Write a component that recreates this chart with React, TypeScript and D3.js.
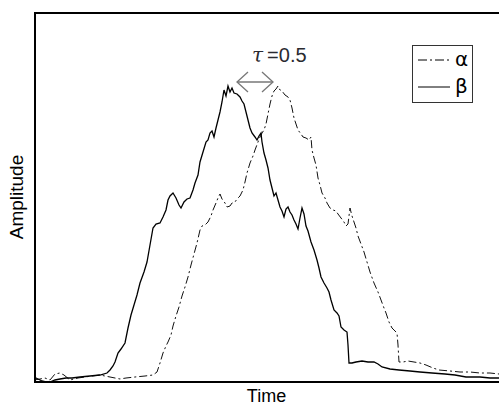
import React, { useEffect, useRef } from "react";
import * as d3 from "d3";

// time (arbitrary units) vs amplitude (arbitrary units)
const alphaSeries: [number, number][] = [
  [0, 4], [12, 6], [22, 8], [32, 4], [42, 16], [52, 18], [60, 14], [72, 4], [88, 8], [102, 10],
  [116, 12], [132, 14], [152, 10], [172, 6], [184, 8], [202, 10], [222, 12], [238, 14], [246, 20],
  [252, 38], [258, 58], [264, 72], [268, 80], [274, 94], [278, 112], [284, 132], [290, 150],
  [296, 172], [302, 190], [308, 210], [314, 234], [320, 256], [326, 278], [332, 304], [336, 312],
  [342, 314], [348, 320], [354, 332], [358, 344], [364, 358], [368, 368], [372, 376], [376, 366],
  [382, 358], [386, 350], [392, 352], [396, 358], [402, 360], [406, 366], [412, 372], [418, 384],
  [422, 400], [426, 418], [432, 438], [438, 452], [442, 464], [448, 480], [452, 490], [456, 498],
  [460, 504], [464, 516], [468, 536], [472, 556], [476, 572], [480, 582], [484, 586], [488, 592],
  [492, 584], [496, 582], [502, 574], [508, 570], [512, 564], [516, 548], [520, 528], [524, 516],
  [528, 504], [534, 496], [538, 490], [544, 488], [550, 484], [554, 490], [556, 464], [560, 448],
  [564, 434], [568, 408], [572, 394], [576, 378], [582, 368], [586, 358], [592, 348], [598, 344],
  [604, 342], [608, 336], [614, 328], [620, 320], [624, 312], [628, 316], [632, 348], [636, 332],
  [640, 320], [644, 308], [648, 292], [654, 276], [660, 260], [666, 240], [672, 220], [680, 198],
  [688, 180], [694, 164], [700, 148], [704, 138], [710, 120], [716, 108], [722, 102], [726, 98],
  [728, 74], [730, 40], [738, 40], [748, 42], [760, 40], [772, 38], [784, 34], [798, 28], [810, 24],
  [832, 22], [852, 20], [872, 20], [892, 18], [912, 18], [930, 16],
];

const betaSeries: [number, number][] = [
  [0, 10], [8, 6], [16, 2], [24, 0], [32, 0], [42, 4], [52, 6], [64, 8], [76, 8], [92, 10],
  [112, 12], [132, 14], [146, 18], [152, 24], [158, 32], [162, 40], [168, 58], [174, 66], [182, 78],
  [188, 108], [194, 134], [200, 154], [206, 174], [212, 198], [220, 220], [226, 240], [232, 274],
  [238, 308], [244, 316], [252, 318], [258, 330], [264, 344], [268, 364], [272, 372], [278, 378],
  [284, 368], [290, 354], [294, 348], [300, 360], [306, 366], [312, 368], [318, 384], [322, 398],
  [328, 414], [332, 440], [338, 460], [344, 480], [348, 484], [352, 498], [356, 502], [360, 490],
  [364, 508], [368, 524], [372, 540], [376, 560], [380, 584], [384, 572], [388, 592], [392, 580],
  [396, 588], [400, 578], [406, 576], [412, 570], [416, 562], [420, 556], [424, 540], [428, 524],
  [432, 508], [436, 498], [442, 490], [446, 484], [450, 492], [454, 498], [456, 480], [460, 458],
  [464, 444], [468, 428], [472, 404], [476, 388], [480, 372], [484, 378], [488, 364], [492, 350],
  [496, 342], [500, 330], [504, 346], [508, 350], [512, 340], [516, 334], [520, 324], [524, 316],
  [528, 306], [532, 328], [536, 348], [540, 336], [544, 312], [548, 302], [554, 280], [560, 264],
  [566, 244], [570, 228], [574, 210], [580, 198], [586, 188], [590, 180], [594, 164], [600, 144],
  [606, 138], [610, 132], [614, 110], [620, 104], [626, 100], [628, 74], [630, 38], [636, 38],
  [644, 40], [656, 42], [668, 40], [680, 40], [688, 36], [696, 30], [712, 26], [730, 24], [752, 22],
  [772, 20], [796, 18], [822, 16], [842, 14], [864, 10], [892, 10], [912, 8], [930, 8],
];

const seriesNames = ["α", "β"];
const tauSpan = [406, 478];
const tauLevel = 600;
const tauLabel = "=0.5";
const xLabel = "Time";
const yLabel = "Amplitude";

const W = 499, H = 407;
const margin = { top: 12, right: 0, bottom: 25, left: 34 };

export default function App() {
  const ref = useRef<SVGSVGElement>(null);

  useEffect(() => {
    const svg = d3.select(ref.current);
    svg.selectAll("*").remove();

    const x = d3.scaleLinear().domain([0, 930]).range([margin.left, W - margin.right]);
    const y = d3.scaleLinear().domain([0, 740]).range([H - margin.bottom, margin.top]);

    svg.append("defs").append("clipPath").attr("id", "plotclip")
      .append("rect")
      .attr("x", margin.left).attr("y", margin.top)
      .attr("width", W - margin.left).attr("height", H - margin.bottom - margin.top);

    const line = d3.line<[number, number]>().x(d => x(d[0])).y(d => y(d[1]));
    const g = svg.append("g").attr("clip-path", "url(#plotclip)");

    g.append("path").datum(alphaSeries)
      .attr("d", line).attr("fill", "none").attr("stroke", "#111")
      .attr("stroke-width", 1).attr("stroke-dasharray", "8,3,2,3");
    g.append("path").datum(betaSeries)
      .attr("d", line).attr("fill", "none").attr("stroke", "#000")
      .attr("stroke-width", 1.3);

    // frame: top, left, bottom
    const fr = svg.append("g").attr("stroke", "#000").attr("stroke-width", 2).attr("fill", "none");
    fr.append("line").attr("x1", margin.left).attr("x2", W).attr("y1", margin.top + 1).attr("y2", margin.top + 1);
    fr.append("line").attr("x1", margin.left + 1).attr("x2", margin.left + 1).attr("y1", margin.top).attr("y2", H - margin.bottom + 1);
    fr.append("line").attr("x1", margin.left).attr("x2", W).attr("y1", H - margin.bottom).attr("y2", H - margin.bottom);

    // tau annotation
    const ay = y(tauLevel);
    const ax0 = x(tauSpan[0]), ax1 = x(tauSpan[1]);
    const ag = svg.append("g").attr("stroke", "#777").attr("stroke-width", 1.3).attr("fill", "none");
    ag.append("line").attr("x1", ax0).attr("x2", ax1).attr("y1", ay).attr("y2", ay);
    ag.append("path").attr("d", `M${ax0 + 11},${ay - 10}L${ax0},${ay}L${ax0 + 11},${ay + 10}`);
    ag.append("path").attr("d", `M${ax1 - 11},${ay - 10}L${ax1},${ay}L${ax1 - 11},${ay + 10}`);

    const tt = svg.append("text").attr("x", x(436)).attr("y", y(640))
      .attr("fill", "#2a2a30").attr("font-family", "Liberation Sans, Arial, sans-serif").attr("font-size", 20);
    tt.append("tspan").attr("font-family", "DejaVu Serif, serif").attr("font-style", "italic").text("τ");
    tt.append("tspan").attr("dx", 4).text(tauLabel);

    // axis labels
    svg.append("text").attr("x", (margin.left + W) / 2).attr("y", 402)
      .attr("text-anchor", "middle").attr("font-family", "Liberation Sans, Arial, sans-serif")
      .attr("font-size", 18).attr("fill", "#000").text(xLabel);
    svg.append("text").attr("transform", `translate(23,${(margin.top + H - margin.bottom) / 2}) rotate(-90)`)
      .attr("text-anchor", "middle").attr("font-family", "Liberation Sans, Arial, sans-serif")
      .attr("font-size", 19).attr("fill", "#000").text(yLabel);

    // legend
    const lg = svg.append("g");
    lg.append("rect").attr("x", 412.5).attr("y", 45.5).attr("width", 60).attr("height", 57)
      .attr("fill", "#fff").attr("stroke", "#333").attr("stroke-width", 1);
    seriesNames.forEach((name, i) => {
      const ly = 60 + i * 27;
      lg.append("line").attr("x1", 418).attr("x2", 450).attr("y1", ly).attr("y2", ly)
        .attr("stroke", "#000").attr("stroke-width", 1)
        .attr("stroke-dasharray", i === 0 ? "9,3,2,3" : null);
      lg.append("text").attr("x", 455).attr("y", ly + 6)
        .attr("font-family", "DejaVu Sans, sans-serif").attr("font-size", 20).attr("fill", "#000").text(name);
    });
  }, []);

  return (
    <svg ref={ref} width={W} height={H}
      style={{ position: "absolute", left: 0, top: 0, background: "#fff" }} />
  );
}
